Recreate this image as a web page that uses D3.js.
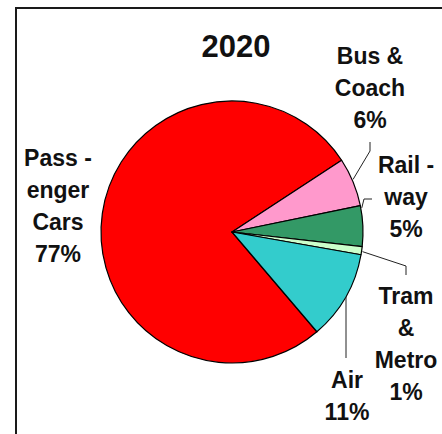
<!DOCTYPE html>
<html>
<head>
<meta charset="utf-8">
<script src="https://cdn.jsdelivr.net/npm/d3@7/dist/d3.min.js"></script>
<style>
  html, body { margin: 0; padding: 0; background: #fff; }
  svg { display: block; }
  text { font-family: "Liberation Sans", Arial, sans-serif; font-weight: bold; fill: #111; }
</style>
</head>
<body>
<div id="chart"></div>
<script>
// Modal split of passenger transport, 2020 (share of passenger-km, %)
const title = "2020";
const categories = ["Passenger Cars", "Bus & Coach", "Railway", "Tram & Metro", "Air"];
const values = [77, 6, 5, 1, 11];
// Label text broken into lines as printed beside each slice
const labelLines = [
  ["Pass -", "enger", "Cars"],
  ["Bus &", "Coach"],
  ["Rail -", "way"],
  ["Tram", "&", "Metro"],
  ["Air"]
];
const colors = ["#ff0000", "#ff99cc", "#339966", "#ccffcc", "#33cccc"];

const W = 442, H = 434;
const svg = d3.select("#chart").append("svg")
  .attr("width", W).attr("height", H);

// Chart frame (extends past the right and bottom edges)
svg.append("rect")
  .attr("x", 16).attr("y", 8)
  .attr("width", 460).attr("height", 460)
  .attr("fill", "none")
  .attr("stroke", "#1a1a1a")
  .attr("stroke-width", 2);

// Title
svg.append("text")
  .attr("x", 236).attr("y", 57)
  .attr("text-anchor", "middle")
  .style("font-size", "31px")
  .text(title);

// Pie
const cx = 232, cy = 232, R = 131;
const start = 139.6 * Math.PI / 180;
const pie = d3.pie().sort(null).value(d => d.value)
  .startAngle(start).endAngle(start + 2 * Math.PI);
const arc = d3.arc().innerRadius(0).outerRadius(R);

const data = categories.map((c, i) => ({ name: c, value: values[i], color: colors[i], lines: labelLines[i] }));
const arcs = pie(data);

const g = svg.append("g").attr("transform", `translate(${cx},${cy})`);
g.selectAll("path.slice").data(arcs).enter().append("path")
  .attr("class", "slice")
  .attr("d", arc)
  .attr("fill", d => d.data.color)
  .attr("stroke", "#000")
  .attr("stroke-width", 1.2)
  .attr("stroke-linejoin", "round");

// Point on the rim at a given fraction through a slice
function rim(d, t, r) {
  const a = d.startAngle + (d.endAngle - d.startAngle) * t;
  return [cx + (r || R) * Math.sin(a), cy - (r || R) * Math.cos(a)];
}

// Label placement: centre x, first baseline, line step
const labelPos = [
  { x: 58, y: 166 },
  { x: 370, y: 64 },
  { x: 406, y: 173 },
  { x: 406, y: 304 },
  { x: 347, y: 388 }
];
const lineStep = 32;

arcs.forEach((d, i) => {
  const p = labelPos[i];
  const t = svg.append("text")
    .attr("text-anchor", "middle")
    .style("font-size", "23px");
  const lines = d.data.lines.concat([d.data.value + "%"]);
  lines.forEach((ln, k) => {
    t.append("tspan").attr("x", p.x).attr("y", p.y + k * lineStep).text(ln);
  });
});

// Leader lines from labels to their slices
const line = d3.line();
const leaders = [
  { i: 1, pts: d => [[370, 142], [370, 151], rim(d, 0.45, R + 1)] },
  { i: 2, pts: d => [[372, 199], [364, 199], rim(d, 0.06, R + 1)] },
  { i: 3, pts: d => [rim(d, 0.6, R + 1), [406, 266], [406, 275]] },
  { i: 4, pts: d => [[346, 297], [346, 358]] }
];
leaders.forEach(l => {
  svg.append("path")
    .attr("d", line(l.pts(arcs[l.i])))
    .attr("fill", "none")
    .attr("stroke", "#222")
    .attr("stroke-width", 1);
});
</script>
</body>
</html>
